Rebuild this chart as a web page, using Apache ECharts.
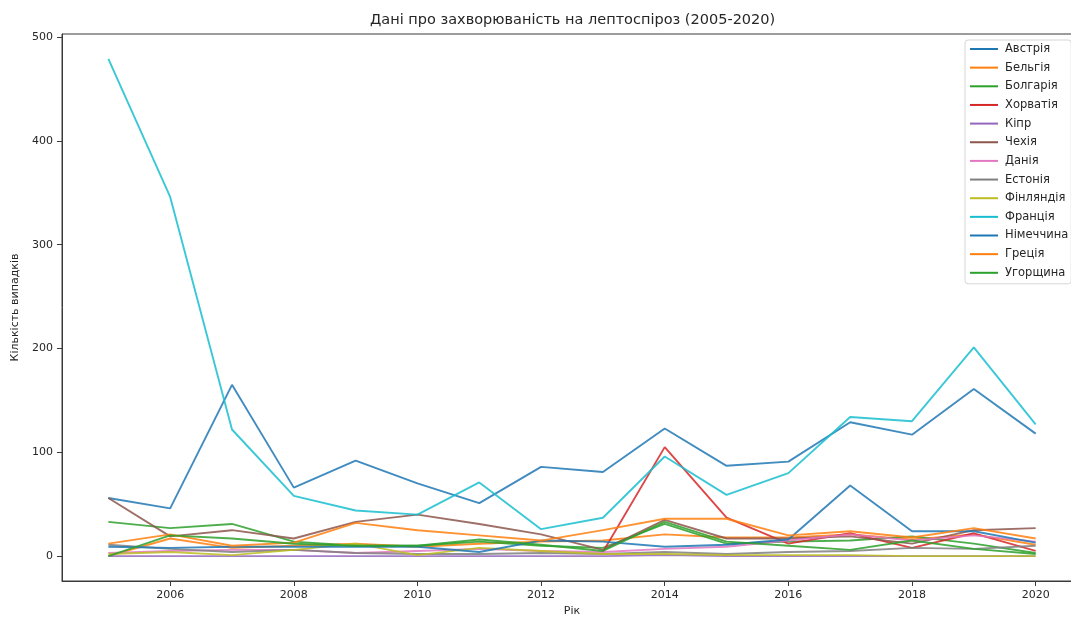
<!DOCTYPE html>
<html>
<head>
<meta charset="utf-8">
<script src="https://cdn.jsdelivr.net/npm/echarts@6/dist/echarts.min.js"></script>
<style>
  html, body { margin: 0; padding: 0; background: #fff; }
  #chart { width: 1071px; height: 617px; }
</style>
</head>
<body>
<div id="chart"></div>
<script>
// Leptospirosis cases per country, 2005-2020
const years = [2005, 2006, 2007, 2008, 2009, 2010, 2011, 2012, 2013, 2014, 2015, 2016, 2017, 2018, 2019, 2020];

const austria  = [56, 46, 165, 66, 92, 70, 51, 86, 81, 123, 87, 91, 129, 117, 161, 118];
const belgium  = [0, 17, 8, 10, 12, 9, 12, 14, 15, 21, 18, 18, 21, 16, 21, 11];
const bulgaria = [33, 27, 31, 14, 10, 10, 14, 10, 8, 31, 12, 14, 15, 19, 12, 3];
const croatia  = [null, null, null, null, null, null, null, null, 4, 105, 37, 12, 22, 8, 22, 5];
const cyprus   = [0, 0, 0, 0, 0, 0, 0, 0, 0, 1, 0, 0, 0, 0, 0, 0];
const czechia  = [56, 19, 25, 17, 33, 40, 31, 21, 6, 35, 17, 17, 19, 12, 25, 27];
const denmark  = [3, 5, 6, 6, 3, 5, 7, 5, 4, 7, 9, 15, 21, 15, 20, 14];
const estonia  = [11, 7, 4, 6, 3, 2, 2, 3, 2, 4, 2, 4, 5, 8, 7, 10];
const finland  = [2, 4, 1, 6, 12, 1, 8, 5, 2, 2, 1, 1, 1, 0, 0, 0];
const france   = [479, 346, 122, 58, 44, 40, 71, 26, 37, 96, 59, 80, 134, 130, 201, 127];
const germany  = [9, 8, 9, 9, 9, 9, 4, 15, 14, 9, 11, 16, 68, 24, 24, 13];
const greece   = [12, 21, 10, 13, 32, 25, 20, 15, 25, 36, 36, 20, 24, 18, 27, 17];
const hungary  = [0, 20, 17, 12, 10, 10, 16, 11, 5, 33, 14, 10, 6, 15, 7, 2];

const countryNames = ['Австрія', 'Бельгія', 'Болгарія', 'Хорватія', 'Кіпр', 'Чехія', 'Данія',
                      'Естонія', 'Фінляндія', 'Франція', 'Німеччина', 'Греція', 'Угорщина'];
const countryValues = [austria, belgium, bulgaria, croatia, cyprus, czechia, denmark,
                       estonia, finland, france, germany, greece, hungary];

const xTicks = [2006, 2008, 2010, 2012, 2014, 2016, 2018, 2020];
const yTicks = [0, 100, 200, 300, 400, 500];

const palette = ['#1f77b4', '#ff7f0e', '#2ca02c', '#d62728', '#9467bd', '#8c564b',
                 '#e377c2', '#7f7f7f', '#bcbd22', '#17becf'];

const FONT = '"DejaVu Sans", sans-serif';
const TEXT = '#262626';

const chart = echarts.init(document.getElementById('chart'), null, { renderer: 'canvas' });

const series = countryNames.map((name, i) => ({
  name: name,
  type: 'line',
  data: years.map((y, k) => [y, countryValues[i][k]]),
  symbol: 'none',
  connectNulls: false,
  lineStyle: { width: 1.9, color: palette[i % palette.length], opacity: 0.85 },
  itemStyle: { color: palette[i % palette.length] },
  emphasis: { disabled: true }
}));

chart.setOption({
  animation: false,
  backgroundColor: '#ffffff',
  title: {
    text: 'Дані про захворюваність на лептоспіроз (2005-2020)',
    left: 370,
    top: 13,
    padding: 0,
    textStyle: { fontFamily: FONT, fontSize: 14.5, fontWeight: 'normal', color: TEXT }
  },
  grid: {
    left: 62, top: 34, width: 1020, height: 547,
    outerBoundsMode: 'none',
    containLabel: false,
    show: true, borderColor: '#3a3a3a', borderWidth: 1, backgroundColor: 'transparent'
  },
  legend: {
    orient: 'vertical',
    left: 965,
    top: 40,
    padding: [2, 3, 4, 5],
    itemGap: 4.65,
    itemWidth: 28,
    itemHeight: 2,
    icon: 'rect',
    borderColor: '#d6d6d6',
    borderWidth: 1,
    borderRadius: 3,
    backgroundColor: 'rgba(255,255,255,0.8)',
    data: countryNames,
    textStyle: { fontFamily: FONT, fontSize: 11.5, color: TEXT, lineHeight: 14, padding: [0, 0, 0, 2] }
  },
  xAxis: {
    type: 'value',
    min: 2004.25,
    max: 2020.75,
    name: 'Рік',
    nameLocation: 'middle',
    nameGap: 25,
    nameTextStyle: { fontFamily: FONT, fontSize: 11, color: TEXT },
    axisLine: { show: true, onZero: false, lineStyle: { color: '#3a3a3a', width: 1 } },
    axisTick: { show: true, length: 5, customValues: xTicks, lineStyle: { color: '#3a3a3a' } },
    axisLabel: {
      customValues: xTicks, margin: 9,
      fontFamily: FONT, fontSize: 11, color: TEXT,
      formatter: v => String(v)
    },
    splitLine: { show: false }
  },
  yAxis: {
    type: 'value',
    min: -23.95,
    max: 502.95,
    name: 'Кількість випадків',
    nameLocation: 'middle',
    nameGap: 36,
    nameTextStyle: { fontFamily: FONT, fontSize: 11, color: TEXT },
    axisLine: { show: true, onZero: false, lineStyle: { color: '#3a3a3a', width: 1 } },
    axisTick: { show: true, length: 5, customValues: yTicks, lineStyle: { color: '#3a3a3a' } },
    axisLabel: {
      customValues: yTicks, margin: 9,
      fontFamily: FONT, fontSize: 11, color: TEXT,
      formatter: v => String(v)
    },
    splitLine: { show: false }
  },
  series: series
});
</script>
</body>
</html>
